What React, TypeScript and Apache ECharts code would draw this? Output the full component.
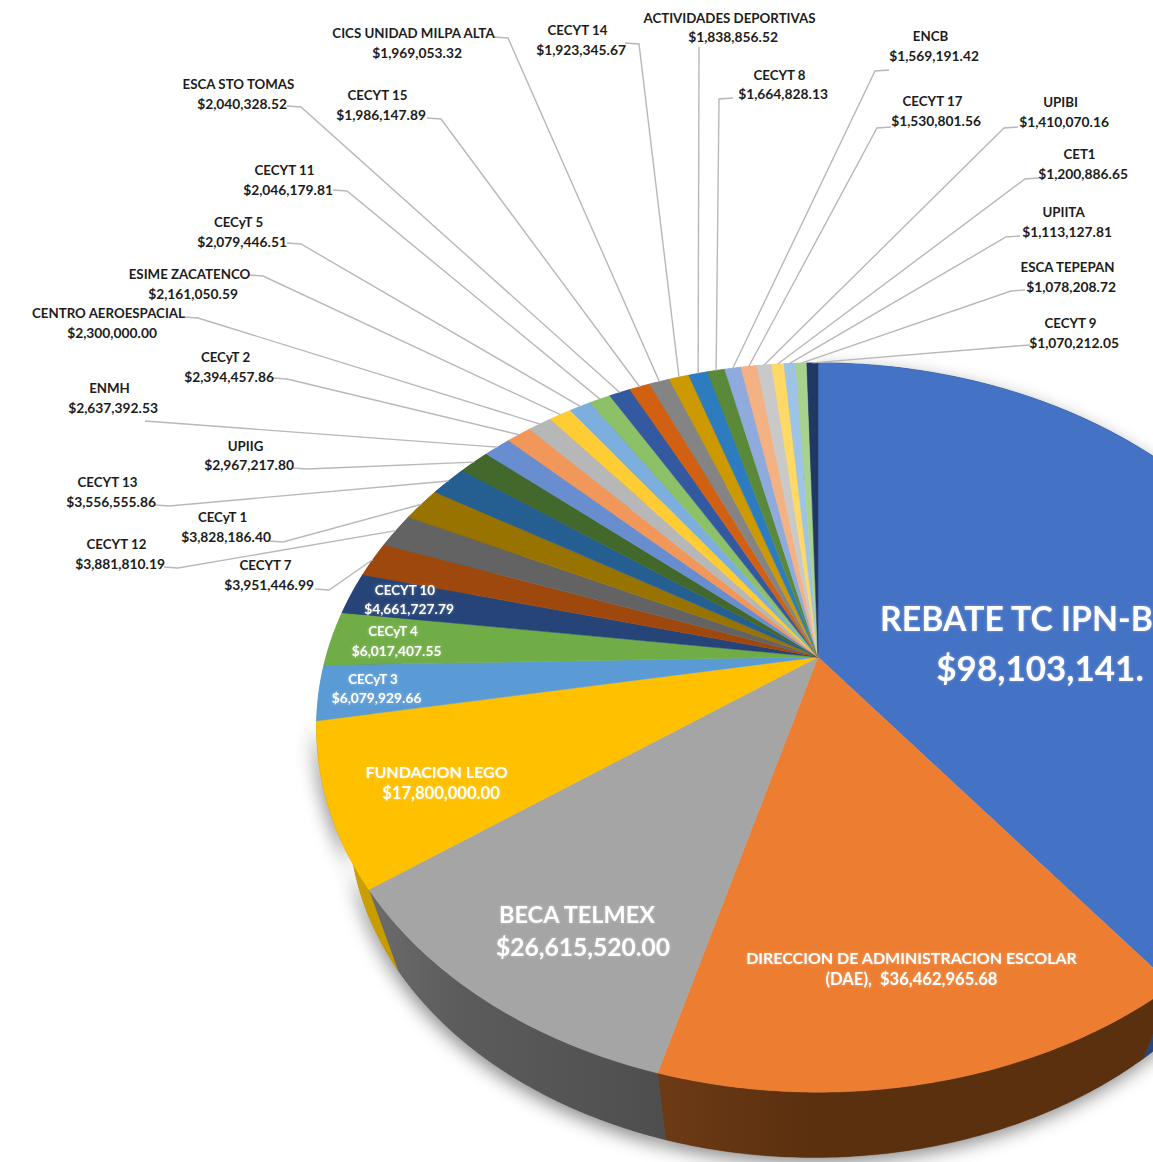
import React, { useEffect, useRef } from "react";
import * as echarts from "echarts";

const names = ["REBATE TC IPN-B","DIRECCION DE ADMINISTRACION ESCOLAR","BECA TELMEX","FUNDACION LEGO","CECyT 3","CECyT 4","CECYT 10","CECYT 7","CECYT 12","CECyT 1","CECYT 13","UPIIG","ENMH","CECyT 2","CENTRO AEROESPACIAL","ESIME ZACATENCO","CECyT 5","CECYT 11","ESCA STO TOMAS","CECYT 15","CICS UNIDAD MILPA ALTA","CECYT 14","ACTIVIDADES DEPORTIVAS","CECYT 8","ENCB","CECYT 17","UPIBI","CET1","UPIITA","ESCA TEPEPAN","CECYT 9"];
const values = [98103141,36462965.68,26615520,17800000,6079929.66,6017407.55,4661727.79,3951446.99,3881810.19,3828186.4,3556555.86,2967217.8,2637392.53,2394457.86,2300000,2161050.59,2079446.51,2046179.81,2040328.52,1986147.89,1969053.32,1923345.67,1838856.52,1664828.13,1569191.42,1530801.56,1410070.16,1200886.65,1113127.81,1078208.72,1070212.05];
const colors = ["#4472C4","#ED7D31","#A5A5A5","#FFC000","#5B9BD5","#70AD47","#264478","#9E480E","#636363","#997300","#255E91","#43682B","#698ED0","#F1975A","#B7B7B7","#FFCD33","#7CAFDD","#8CC168","#335AA1","#D26012","#848484","#CC9A00","#2E7CC0","#5A8A39","#8FAADC","#F4B183","#C9C9C9","#FFD966","#9DC3E6","#A9D18E","#203864"];
const sideColors: Record<number, string[]> = {
  0: ["#2A4678", "#2A4678", "#2A4678"],
  1: ["#6E3A16", "#5A300F", "#5A300F"],
  2: ["#6C6C6C", "#5C5C5C", "#4E4E4E"],
  3: ["#D9A800", "#CFA200", "#C49A00"],
};

// label layout: slice index -> [value centre x, name y, value y, leader elbow x, leader elbow y]
const outerLabels: Record<number, number[]> = {
  7: [269,565,584,318,589], 8: [120,544,563,167,567], 9: [226,517,536,272,541], 10: [111,482,501,158,505],
  11: [249,446,464,296,468], 12: [113,388,407,145,421], 13: [229,357,376,276,378], 14: [112,313,332,187,317],
  15: [193,274,293,252,275], 16: [242,222,241,290,243], 17: [288,170,189,336,190], 18: [242,84,103,290,106],
  19: [381,95,114,430,118], 20: [417,33,52,497,37], 21: [581,30,49,628,43], 22: [733,18,36,699,47],
  23: [783,75,93,730,98], 24: [934,36,55,886,70], 25: [936,101,120,888,127], 26: [1064,102,121,1015,127],
  27: [1083,154,173,1036,178], 28: [1067,212,231,1017,236], 29: [1071,267,286,1022,290], 30: [1074,323,342,1027,345],
};
// inner labels: slice index -> [name x, name y, value x, value y, name font size, value font size]
const innerLabels: Record<number, number[]> = {
  0: [1016.5,618,1040,667,33.8,35], 1: [911.5,957,911.5,979,16,16.6], 2: [577,914,583,946,23.5,24.6], 3: [436.5,771,441,793,16,16.6],
  4: [373,679,376.5,697,13.4,13.8], 5: [393,631,396.5,650,13.4,13.8], 6: [405,590,409,608,13.4,13.8],
};
const innerTextOverride: Record<number, string[]> = {
  0: ["REBATE TC IPN-B", "$98,103,141."],
  1: ["DIRECCION DE ADMINISTRACION ESCOLAR", "(DAE),  $36,462,965.68"],
};

const CX = 818, CY = 657, RA = 492, RB = 351, TILT = 0.1934;
const VPX = 769, VPY = 2000, DEPTH = 0.072;
const total = values.reduce((a, b) => a + b, 0);
const starts: number[] = [];
values.reduce((acc, v, i) => { starts[i] = acc; return acc + v; }, 0);
const theta = (v: number) => (v / total) * Math.PI * 2;
const top = (t: number): number[] => {
  const u = Math.sin(t), v = -Math.cos(t), s = 1 / (1 - TILT * v);
  return [CX + RA * u * s, CY + RB * v * s];
};
const low = (p: number[]): number[] => [p[0] + (VPX - p[0]) * DEPTH, p[1] + (VPY - p[1]) * DEPTH];
const arc = (a: number, b: number): number[][] => {
  const n = Math.max(2, Math.ceil((b - a) / 0.01));
  const pts: number[][] = [];
  for (let i = 0; i <= n; i++) pts.push(top(a + ((b - a) * i) / n));
  return pts;
};
const range = (i: number, v: number): [number, number] => [theta(starts[i]), theta(starts[i] + v)];
const money = (v: number) => "$" + v.toLocaleString("en-US", { minimumFractionDigits: 2, maximumFractionDigits: 2 });
const data = values.map((value, i) => ({ name: names[i], value }));
const FONT = "Lato, 'Open Sans', sans-serif";

const sidePoints = (i: number, v: number) => {
  const [a, b] = range(i, v);
  const upper = arc(a, b);
  return upper.concat(upper.slice().reverse().map(low));
};

export default function App() {
  const ref = useRef<HTMLDivElement>(null);
  useEffect(() => {
    document.body.style.margin = "0";
    const chart = echarts.init(ref.current!, null, { renderer: "svg" });
    chart.setOption({
      animation: false,
      backgroundColor: "#ffffff",
      series: [
        {
          type: "custom", coordinateSystem: "none", z: 1, silent: true, data,
          renderItem: (p: any, api: any) => {
            const i = p.dataIndex;
            if (i > 3) return { type: "group", children: [] };
            return {
              type: "polygon",
              shape: { points: sidePoints(i, api.value(0)) },
              style: { fill: "#777777", shadowBlur: 18, shadowColor: "rgba(0,0,0,0.45)", shadowOffsetX: -2, shadowOffsetY: 6 },
            };
          },
        },
        {
          type: "custom", coordinateSystem: "none", z: 2, silent: true, data,
          renderItem: (p: any, api: any) => {
            const i = p.dataIndex;
            const c = sideColors[i] || [colors[i], colors[i], colors[i]];
            return {
              type: "polygon",
              shape: { points: sidePoints(i, api.value(0)) },
              style: {
                fill: { type: "linear", x: 0, y: 0, x2: 1, y2: 0, colorStops: [{ offset: 0, color: c[0] }, { offset: 0.3, color: c[1] }, { offset: 1, color: c[2] }] },
                stroke: c[2], lineWidth: 0.4,
              },
            };
          },
        },
        {
          type: "custom", coordinateSystem: "none", z: 3, data,
          renderItem: (p: any, api: any) => {
            const i = p.dataIndex;
            const [a, b] = range(i, api.value(0));
            return {
              type: "polygon",
              shape: { points: [[CX, CY], ...arc(a, b)] },
              style: { fill: colors[i], stroke: colors[i], lineWidth: 0.5 },
            };
          },
        },
        {
          type: "custom", coordinateSystem: "none", z: 4, silent: true, data,
          renderItem: (p: any, api: any) => {
            const i = p.dataIndex;
            const v = api.value(0);
            const children: any[] = [];
            const text = (s: string, x: number, y: number, size: number, fill: string, shadow: boolean) => ({
              type: "text", x, y,
              style: {
                text: s, fill, font: `bold ${size}px ${FONT}`, textAlign: "center", textVerticalAlign: "middle",
                align: "center", verticalAlign: "middle",
                ...(shadow ? { textShadowColor: "rgba(255,255,255,0.35)", textShadowBlur: 3 } : {}),
              },
            });
            const o = outerLabels[i];
            if (o) {
              const [a, b] = range(i, v);
              const end = top((a + b) / 2);
              const pts: number[][] = [];
              if (i === 22 || i === 12) pts.push([o[3], o[4]]);
              else pts.push([o[3] + (o[3] > o[0] ? -3 : 3), o[4]], [o[3] + (o[3] > o[0] ? 11 : -11), o[4] + 1]);
              pts.push(end);
              children.push({ type: "polyline", shape: { points: pts }, style: { fill: "none", stroke: "#B8B8B8", lineWidth: 1.4 } });
              children.push(text(names[i], o[0] - 3.5, o[1], 13.3, "#1c1c1c", false));
              children.push(text(money(v), o[0], o[2], 13.8, "#1c1c1c", false));
            }
            const n = innerLabels[i];
            if (n) {
              const t = innerTextOverride[i] || [names[i], money(v)];
              children.push(text(t[0], n[0], n[1], n[4], "#FFFFFF", true));
              children.push(text(t[1], n[2], n[3], n[5], "#FFFFFF", true));
            }
            return { type: "group", children };
          },
        },
      ],
    });
    return () => chart.dispose();
  }, []);
  return <div ref={ref} style={{ position: "absolute", left: 0, top: 0, width: 1153, height: 1162 }} />;
}
